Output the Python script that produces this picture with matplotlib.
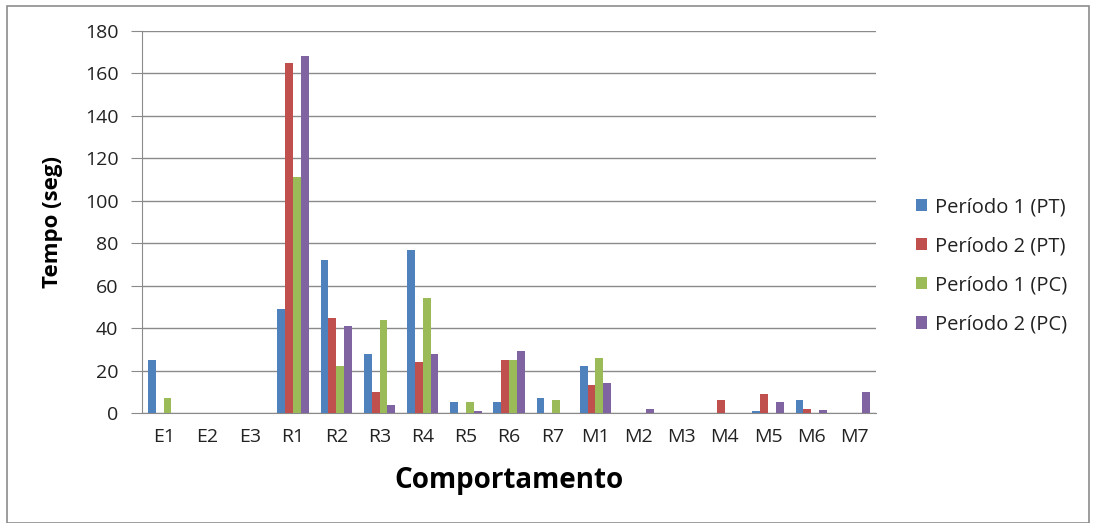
import matplotlib
matplotlib.use("Agg")
import matplotlib.pyplot as plt
import numpy as np
from matplotlib.patches import Rectangle

categories = ["E1", "E2", "E3", "R1", "R2", "R3", "R4", "R5", "R6", "R7",
              "M1", "M2", "M3", "M4", "M5", "M6", "M7"]
series_names = ["Período 1 (PT)", "Período 2 (PT)", "Período 1 (PC)", "Período 2 (PC)"]
p1_pt = [25, 0, 0, 49, 72, 28, 77, 5, 5, 7, 22, 0, 0, 0, 1, 6, 0]
p2_pt = [0, 0, 0, 165, 45, 10, 24, 0, 25, 0, 13, 0, 0, 6, 9, 2, 0]
p1_pc = [7, 0, 0, 111, 22, 44, 54, 5, 25, 6, 26, 0, 0, 0, 0, 0, 0]
p2_pc = [0, 0, 0, 168, 41, 4, 28, 1, 29, 0, 14, 2, 0, 0, 5, 1.5, 10]
colors = ["#4F81BD", "#C0504D", "#9BBB59", "#8064A2"]

font = ["Open Sans", "DejaVu Sans"]
plt.rcParams["font.family"] = font

fig = plt.figure(figsize=(10.96, 5.23), dpi=100)
fig.patches.append(Rectangle((0.006, 0.0), 0.988, 0.988, transform=fig.transFigure,
                             fill=False, edgecolor="#8c8c8c", linewidth=1.2))
ax = fig.add_axes([0.1296, 0.2103, 0.6697, 0.7304])

x = np.arange(len(categories))
bw = 1 / 5.5
data = [p1_pt, p2_pt, p1_pc, p2_pc]
for i, (vals, c, name) in enumerate(zip(data, colors, series_names)):
    ax.bar(x + (i - 1.5) * bw, vals, width=bw, color=c, label=name, zorder=3)

ax.set_xlim(-0.5, len(categories) - 0.5)
ax.set_ylim(0, 180)
ax.set_yticks(np.arange(0, 181, 20))
ax.set_xticks(x)
ax.set_xticklabels(categories)
ax.yaxis.grid(True, color="#8a8a8a", linewidth=1.0, zorder=0)
ax.set_axisbelow(True)
for s in ["top", "right"]:
    ax.spines[s].set_visible(False)
ax.spines["left"].set_color("#8a8a8a")
ax.spines["bottom"].set_color("#8a8a8a")
ax.tick_params(axis="y", length=8, color="#8a8a8a", labelsize=14, pad=9, labelcolor="#222222")
ax.tick_params(axis="x", length=0, labelsize=14, pad=11, labelcolor="#222222")
ax.set_ylabel("Tempo (seg)", fontsize=16, fontweight="bold", labelpad=16)
ax.set_xlabel("Comportamento", fontsize=20, fontweight="bold", labelpad=14)

leg = ax.legend(loc="center left", bbox_to_anchor=(1.03, 0.385), frameon=False,
                fontsize=14.5, handlelength=0.55, handleheight=0.55, handletextpad=0.4,
                labelspacing=0.95)
for t in leg.get_texts():
    t.set_color("#222222")

fig.savefig("out.png", dpi=100)
